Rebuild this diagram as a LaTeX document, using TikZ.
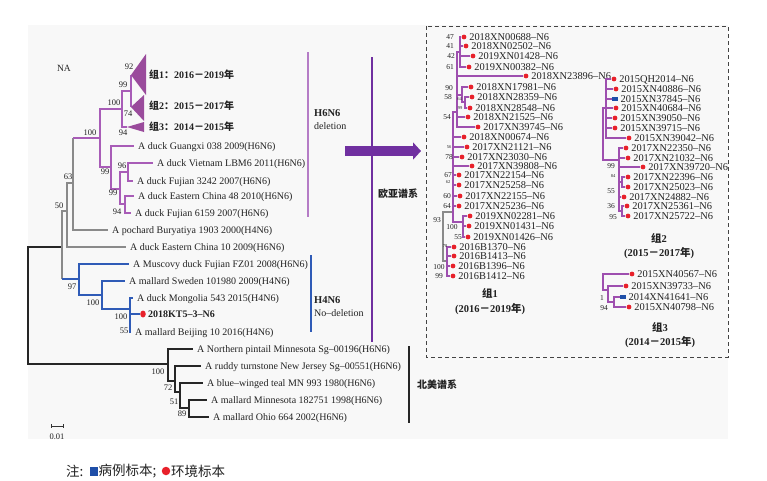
\documentclass[tikz,border=0pt]{standalone}
\usepackage{fontspec}
\setmainfont{Liberation Serif}
\newfontfamily\cjk{Noto Sans CJK SC}
\usetikzlibrary{arrows.meta,shapes.geometric}
\definecolor{plc}{HTML}{A85CB7}
\definecolor{plr}{HTML}{9E4FAF}
\definecolor{plb}{HTML}{B57CC6}
\definecolor{tric}{HTML}{9A4B9C}
\definecolor{euc}{HTML}{7030A0}
\definecolor{blc}{HTML}{2F5BB7}
\definecolor{grc}{HTML}{8A8A8A}
\definecolor{rdc}{HTML}{E8202A}
\definecolor{sqc}{HTML}{1F4FA8}
\definecolor{bgc}{HTML}{F8F8F8}
\definecolor{txc}{HTML}{222222}
\definecolor{boxc}{HTML}{444444}
\newcommand\zh[1]{{\cjk #1}}
% left leaf: name, parent, text x, y, text, line style
\newcommand\LLeaf[6]{\node[ltxt] (#1) at (#3,#4) {#5};\draw[#6] (#2) |- ([xshift=-4pt]#1.west);}
% right leaf: name, parent, marker x, y, text, marker style
\newcommand\RLeaf[6]{\node[#6] (#1) at (#3,#4) {};\node[rtxt] (#1t) at ([xshift=2.5pt]#1.east) {#5};\draw[rl] (#2) |- (#1.west);}
% support value: name, x, y, text, style
\newcommand\BS[5]{\node[#5] (#1) at (#2,#3) {#4};}
\begin{document}
\begin{tikzpicture}[x=1pt,y=-1pt,
  pl/.style={draw=plc,line width=1.1pt},
  gl/.style={draw=grc,line width=1.1pt},
  bll/.style={draw=blc,line width=1.1pt},
  kl/.style={draw=black!85,line width=1.1pt},
  rl/.style={draw=plr,line width=1.3pt},
  rgl/.style={draw=grc,line width=1.3pt},
  ltxt/.style={anchor=west,inner sep=0pt,font=\fontsize{10}{12}\selectfont,text height=6.6pt,text depth=0pt,text=txc},
  rtxt/.style={anchor=west,inner sep=0pt,font=\fontsize{10.4}{12}\selectfont,text height=6.9pt,text depth=0pt,text=txc},
  lab/.style={inner sep=0pt,font=\fontsize{8.5}{10}\selectfont,text=txc},
  rlab/.style={inner sep=0pt,font=\fontsize{7.5}{9}\selectfont,text=txc},
  tlab/.style={inner sep=0pt,font=\fontsize{4.5}{5}\selectfont,text=txc},
  glab/.style={inner sep=0pt,font=\bfseries\fontsize{10.5}{12}\selectfont,text=txc},
  rdot/.style={circle,fill=rdc,inner sep=0pt,minimum size=4.8pt},
  bsq/.style={rectangle,fill=sqc,inner sep=0pt,minimum width=5.5pt,minimum height=4.8pt},
  leg/.style={inner sep=0pt,anchor=west,font=\fontsize{13.5}{15}\selectfont,text=txc}]
\useasboundingbox (0,0) rectangle (767,480);
\fill[white] (0,0) rectangle (767,480);
\fill[bgc] (28,25) rectangle (728,439);

% ---------------- left tree: internal nodes
\coordinate (R) at (28,305);
\coordinate (E) at (62,247);
\coordinate (F) at (67,211);
\coordinate (G) at (73,183);
\coordinate (H) at (100,138);
\coordinate (GN) at (122,109);
\coordinate (T12) at (131,91);
\coordinate (T1) at (131,75);
\coordinate (T2) at (131,107);
\coordinate (T3) at (127,127);
\coordinate (J) at (111,167);
\coordinate (M) at (120,189);
\coordinate (L) at (128,172);
\coordinate (N) at (125,204);
\coordinate (B1) at (79,279);
\coordinate (B2) at (102,295);
\coordinate (B3) at (130,309);
\coordinate (NA1) at (168,364);
\coordinate (NA2) at (175,381);
\coordinate (NA3) at (180,392);
\coordinate (NA4) at (189,408);

\draw[kl] (R) |- (E);
\draw[kl] (R) |- (NA1);
\draw[gl] (E) |- (F);
\draw[gl] (E) -- (E |- B1);
\draw[bll] (E |- B1) -- (B1);
\draw[gl] (F) |- (G);
\draw[gl] (G) -- (G |- H);
\draw[pl] (G |- H) -- (H);
\draw[pl] (H) |- (GN);
\draw[pl] (H) |- (J);
\draw[pl] (GN) |- (T12);
\draw[pl] (GN) |- (T3);
\draw[pl] (T12) |- (T1);
\draw[pl] (T12) |- (T2);
\draw[pl] (J) |- (M);
\draw[pl] (M) |- (L);
\draw[pl] (M) |- (N);
\draw[bll] (B1) |- (B2);
\draw[bll] (B2) |- (B3);
\draw[kl] (NA1) |- (NA2);
\draw[kl] (NA2) |- (NA3);
\draw[kl] (NA3) |- (NA4);

% collapsed groups
\fill[tric] (T1) -- (146,54) -- (146,95) -- cycle;
\fill[tric] (T2) -- (144,95) -- (144,121) -- cycle;
\fill[tric] (T3) -- (144,122) -- (144,132) -- cycle;
\node[glab,anchor=west,font=\bfseries\fontsize{10}{12}\selectfont] (tg1) at (149,74.5) {\zh{组}1\zh{：}2016\zh{－}2019\zh{年}};
\node[glab,anchor=west,font=\bfseries\fontsize{10}{12}\selectfont] (tg2) at (149,106) {\zh{组}2\zh{：}2015\zh{－}2017\zh{年}};
\node[glab,anchor=west,font=\bfseries\fontsize{10}{12}\selectfont] (tg3) at (149,127) {\zh{组}3\zh{：}2014\zh{－}2015\zh{年}};

% leaves
\LLeaf{gx}{J}{138}{146}{A duck Guangxi 038 2009(H6N6)}{pl}
\LLeaf{vn}{L}{157}{163}{A duck Vietnam LBM6 2011(H6N6)}{pl}
\LLeaf{fja}{L}{137}{181}{A duck Fujian 3242 2007(H6N6)}{pl}
\LLeaf{eca}{N}{138}{196}{A duck Eastern China 48 2010(H6N6)}{pl}
\LLeaf{fjb}{N}{135}{213}{A duck Fujian 6159 2007(H6N6)}{pl}
\LLeaf{poc}{G}{112}{230}{A pochard Buryatiya 1903 2000(H4N6)}{gl}
\LLeaf{ecb}{F}{130}{247}{A duck Eastern China 10 2009(H6N6)}{gl}
\LLeaf{mus}{B1}{133}{264}{A Muscovy duck Fujian FZ01 2008(H6N6)}{bll}
\LLeaf{swe}{B2}{129}{281}{A mallard Sweden 101980 2009(H4N6)}{bll}
\LLeaf{mon}{B3}{137}{298}{A duck Mongolia 543 2015(H4N6)}{bll}
\node[ellipse,fill=rdc,minimum width=5.5pt,minimum height=7pt,inner sep=0pt] (ktd) at (143,314) {};
\node[ltxt,font=\bfseries\fontsize{10}{12}\selectfont] (kt) at (148,314) {2018KT5–3–N6};
\draw[bll] (B3) |- (ktd.west);
\LLeaf{bj}{B3}{135}{332}{A mallard Beijing 10 2016(H4N6)}{bll}
\LLeaf{np}{NA1}{197}{349}{A Northern pintail Minnesota Sg–00196(H6N6)}{kl}
\LLeaf{rt}{NA2}{205}{366}{A ruddy turnstone New Jersey Sg–00551(H6N6)}{kl}
\LLeaf{bw}{NA3}{207}{383}{A blue–winged teal MN 993 1980(H6N6)}{kl}
\LLeaf{mm}{NA4}{211}{400}{A mallard Minnesota 182751 1998(H6N6)}{kl}
\LLeaf{oh}{NA4}{213}{417}{A mallard Ohio 664 2002(H6N6)}{kl}

% support values
\BS{s1}{129}{67}{92}{lab}
\BS{s2}{123}{85}{99}{lab}
\BS{s3}{114}{103}{100}{lab}
\BS{s4}{128}{114}{74}{lab}
\BS{s5}{123}{133}{94}{lab}
\BS{s6}{90}{133}{100}{lab}
\BS{s7}{105}{172}{99}{lab}
\BS{s8}{122}{166}{96}{lab}
\BS{s9}{113}{193}{99}{lab}
\BS{s10}{117}{212}{94}{lab}
\BS{s11}{68}{177}{63}{lab}
\BS{s12}{59}{206}{50}{lab}
\BS{s13}{72}{287}{97}{lab}
\BS{s14}{93}{303}{100}{lab}
\BS{s15}{121}{317}{100}{lab}
\BS{s16}{124}{331}{55}{lab}
\BS{s17}{158}{372}{100}{lab}
\BS{s18}{168}{388}{72}{lab}
\BS{s19}{174}{402}{51}{lab}
\BS{s20}{182}{414}{89}{lab}
\node[inner sep=0pt,font=\fontsize{9.5}{11}\selectfont,text=txc] (na) at (64,68) {NA};

% scale bar
\coordinate (sba) at (51,426);
\coordinate (sbb) at (63,426);
\draw[black!80,line width=0.8pt] (sba) -- (sbb);
\draw[black!80,line width=0.8pt] ([yshift=2pt]sba) -- ([yshift=-2pt]sba);
\draw[black!80,line width=0.8pt] ([yshift=2pt]sbb) -- ([yshift=-2pt]sbb);
\node[inner sep=0pt,font=\fontsize{8.5}{10}\selectfont,text=txc] (sbl) at (57,437) {0.01};

% ---------------- side bars and labels
\coordinate (h6t) at (308,52); \coordinate (h6b) at (308,217);
\draw[draw=plb,line width=1.2pt] (h6t) -- (h6b);
\node[inner sep=0pt,anchor=west,font=\bfseries\fontsize{10.5}{12}\selectfont,text=txc] (h6) at (314,113) {H6N6};
\node[inner sep=0pt,anchor=west,font=\fontsize{10}{12}\selectfont,text=txc] (h6d) at (314,126) {deletion};
\coordinate (h4t) at (311,255); \coordinate (h4b) at (311,332);
\draw[draw=blc,line width=1.2pt] (h4t) -- (h4b);
\node[inner sep=0pt,anchor=west,font=\bfseries\fontsize{10.5}{12}\selectfont,text=txc] (h4) at (314,300) {H4N6};
\node[inner sep=0pt,anchor=west,font=\fontsize{10}{12}\selectfont,text=txc] (h4d) at (314,313) {No–deletion};
\coordinate (arS) at (345,151); \coordinate (arE) at (421,151);
\draw[draw=euc,line width=10pt,-{Triangle[length=8pt,width=17pt]}] (arS) -- (arE);
\coordinate (eut) at (372,57); \coordinate (eub) at (372,342);
\draw[draw=euc,line width=1.3pt] (eut) -- (eub);
\node[inner sep=0pt,anchor=west,font=\bfseries\fontsize{10}{12}\selectfont,text=txc] (eu) at (378,194) {\zh{欧亚谱系}};
\coordinate (nat) at (409,346); \coordinate (nab) at (409,423);
\draw[draw=black!85,line width=1.3pt] (nat) -- (nab);
\node[inner sep=0pt,anchor=west,font=\bfseries\fontsize{10}{12}\selectfont,text=txc] (nam) at (417,385) {\zh{北美谱系}};

% ---------------- dashed box
\draw[boxc,line width=0.9pt,dash pattern=on 4pt off 3pt] (426,26) rectangle (728,357);

% ---------------- group 1
\coordinate (G1R) at (443,240);
\coordinate (P1) at (453,212);
\coordinate (P2) at (457,112);
\coordinate (W) at (460,52);
\coordinate (X6) at (462,95);
\coordinate (X7) at (465,102);
\coordinate (V) at (463,222);
\coordinate (Q1) at (447,261);
\draw[rgl] (G1R) |- (P1);
\draw[rgl] (G1R) |- (Q1);
\draw[rl] (P1) |- (P2);
\draw[rl] (P2) |- (W);
\draw[rl] (P2) |- (X6);
\draw[rl] (X6) |- (X7);
\draw[rl] (P1) |- (V);
\RLeaf{a1}{W}{464}{37}{2018XN00688–N6}{rdot}
\RLeaf{a2}{W}{466}{46}{2018XN02502–N6}{rdot}
\RLeaf{a3}{W}{473}{56}{2019XN01428–N6}{rdot}
\RLeaf{a4}{W}{469}{67}{2019XN00382–N6}{rdot}
\RLeaf{a5}{P2}{526}{76}{2018XN23896–N6}{rdot}
\RLeaf{a6}{X6}{471}{87}{2018XN17981–N6}{rdot}
\RLeaf{a7}{X7}{472}{97}{2018XN28359–N6}{rdot}
\RLeaf{a8}{X7}{470}{108}{2018XN28548–N6}{rdot}
\RLeaf{a9}{P2}{468}{117}{2018XN21525–N6}{rdot}
\RLeaf{a10}{P2}{478}{127}{2017XN39745–N6}{rdot}
\RLeaf{a11}{P1}{464}{137}{2018XN00674–N6}{rdot}
\RLeaf{a12}{P1}{467}{147}{2017XN21121–N6}{rdot}
\RLeaf{a13}{P1}{462}{157}{2017XN23030–N6}{rdot}
\RLeaf{a14}{P1}{472}{166}{2017XN39808–N6}{rdot}
\RLeaf{a15}{P1}{459}{175}{2017XN22154–N6}{rdot}
\RLeaf{a16}{P1}{459}{185}{2017XN25258–N6}{rdot}
\RLeaf{a17}{P1}{460}{196}{2017XN22155–N6}{rdot}
\RLeaf{a18}{P1}{459}{206}{2017XN25236–N6}{rdot}
\RLeaf{a19}{V}{470}{216}{2019XN02281–N6}{rdot}
\RLeaf{a20}{V}{469}{226}{2019XN01431–N6}{rdot}
\RLeaf{a21}{V}{468}{237}{2019XN01426–N6}{rdot}
\RLeaf{a22}{Q1}{454}{247}{2016B1370–N6}{rdot}
\RLeaf{a23}{Q1}{454}{256}{2016B1413–N6}{rdot}
\RLeaf{a24}{Q1}{453}{266}{2016B1396–N6}{rdot}
\RLeaf{a25}{Q1}{453}{276}{2016B1412–N6}{rdot}
\BS{r1}{450}{37}{47}{rlab}
\BS{r2}{450}{46}{41}{rlab}
\BS{r3}{451}{56}{42}{rlab}
\BS{r4}{450}{67}{61}{rlab}
\BS{r5}{449}{88}{90}{rlab}
\BS{r6}{448}{97}{58}{rlab}
\BS{r7}{459.5}{99}{64}{tlab}
\BS{r8}{460}{108}{99}{tlab}
\BS{r9}{447}{117}{54}{rlab}
\BS{r10}{449}{147}{56}{tlab}
\BS{r11}{449}{157}{78}{rlab}
\BS{r12}{448}{175}{67}{rlab}
\BS{r13}{448}{182}{62}{tlab}
\BS{r14}{447}{196}{60}{rlab}
\BS{r15}{447}{206}{64}{rlab}
\BS{r16}{437}{220}{93}{rlab}
\BS{r17}{452}{227}{100}{rlab}
\BS{r18}{458}{237}{55}{rlab}
\BS{r19}{445}{246}{78}{tlab}
\BS{r20}{439}{267}{100}{rlab}
\BS{r21}{439}{276}{99}{rlab}
\node[glab] (g1a) at (490,293) {\zh{组}1};
\node[glab] (g1b) at (490,309) {(2016\zh{－}2019\zh{年})};

% ---------------- group 2
\coordinate (G2R) at (603,140);
\coordinate (A2) at (606,108);
\coordinate (B2) at (619,160);
\coordinate (C2) at (622,182);
\coordinate (D2) at (622,211);
\draw[rl] (G2R) |- (A2);
\draw[rl] (G2R) |- (B2);
\draw[rl] (B2) |- (C2);
\draw[rl] (B2) |- (D2);
\RLeaf{c1}{A2}{614}{79}{2015QH2014–N6}{rdot}
\RLeaf{c2}{A2}{616}{89}{2015XN40886–N6}{rdot}
\RLeaf{c3}{A2}{615}{99}{2015XN37845–N6}{bsq}
\RLeaf{c4}{A2}{616}{108}{2015XN40684–N6}{rdot}
\RLeaf{c5}{A2}{615}{118}{2015XN39050–N6}{rdot}
\RLeaf{c6}{A2}{615}{128}{2015XN39715–N6}{rdot}
\RLeaf{c7}{A2}{629}{138}{2015XN39042–N6}{rdot}
\RLeaf{c8}{B2}{626}{148}{2017XN22350–N6}{rdot}
\RLeaf{c9}{B2}{628}{158}{2017XN21032–N6}{rdot}
\RLeaf{c10}{B2}{643}{167}{2017XN39720–N6}{rdot}
\RLeaf{c11}{C2}{628}{177}{2017XN22396–N6}{rdot}
\RLeaf{c12}{C2}{628}{187}{2017XN25023–N6}{rdot}
\RLeaf{c13}{B2}{624}{197}{2017XN24882–N6}{rdot}
\RLeaf{c14}{D2}{627}{206}{2017XN25361–N6}{rdot}
\RLeaf{c15}{D2}{628}{216}{2017XN25722–N6}{rdot}
\BS{q1}{611}{166}{99}{rlab}
\BS{q2}{613}{176}{84}{tlab}
\BS{q3}{611}{191}{55}{rlab}
\BS{q4}{611}{206}{36}{rlab}
\BS{q5}{613}{217}{95}{rlab}
\node[glab] (g2a) at (659,238) {\zh{组}2};
\node[glab] (g2b) at (659,253) {(2015\zh{－}2017\zh{年})};

% ---------------- group 3
\coordinate (G3R) at (603,280);
\coordinate (X3) at (608,290);
\coordinate (Y3) at (614,302);
\draw[rl] (G3R) |- (X3);
\draw[rl] (X3) |- (Y3);
\RLeaf{e1}{G3R}{632}{274}{2015XN40567–N6}{rdot}
\RLeaf{e2}{X3}{626}{286}{2015XN39733–N6}{rdot}
\RLeaf{e3}{Y3}{623}{297}{2014XN41641–N6}{bsq}
\RLeaf{e4}{Y3}{629}{307}{2015XN40798–N6}{rdot}
\BS{u1}{602}{298}{1}{rlab}
\BS{u2}{604}{308}{94}{rlab}
\node[glab] (g3a) at (660,327) {\zh{组}3};
\node[glab] (g3b) at (660,342) {(2014\zh{－}2015\zh{年})};

% ---------------- legend
\node[leg] (lg1) at (66,471) {\zh{注:}};
\node[rectangle,fill=sqc,minimum width=8pt,minimum height=9pt,inner sep=0pt] (lgsq) at (94,471) {};
\node[leg] (lg2) at (98.5,471) {\zh{病例标本;}};
\node[circle,fill=rdc,minimum size=8.5pt,inner sep=0pt] (lgdot) at (166,471) {};
\node[leg] (lg3) at (171,471) {\zh{环境标本}};
\end{tikzpicture}
\end{document}
